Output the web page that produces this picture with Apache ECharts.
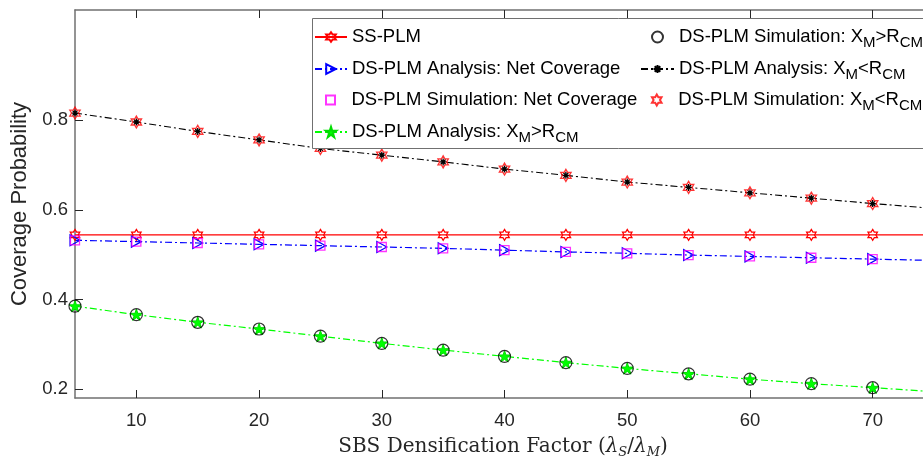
<!DOCTYPE html>
<html><head><meta charset="utf-8">
<script src="https://cdn.jsdelivr.net/npm/echarts@6/dist/echarts.min.js"></script>
<style>html,body{margin:0;padding:0;background:#fff}#c{width:923px;height:464px}</style>
</head><body><div id="c"></div>
<script>
// ---- data ----
const xValues = [5,10,15,20,25,30,35,40,45,50,55,60,65,70,75];
const xSim = [5,10,15,20,25,30,35,40,45,50,55,60,65,70];
const xTicks = [10,20,30,40,50,60,70];
const yTicks = [0.2,0.4,0.6,0.8];
const ssPlm = [0.544,0.544,0.544,0.544,0.544,0.544,0.544,0.544,0.544,0.544,0.544,0.544,0.544,0.544,0.544];
const netAnalysis = [0.532,0.529,0.526,0.523,0.520,0.517,0.514,0.510,0.506,0.503,0.499,0.496,0.493,0.490,0.487];
const netSim = [0.532,0.529,0.526,0.523,0.520,0.517,0.514,0.510,0.506,0.503,0.499,0.496,0.493,0.490];
const farAnalysis = [0.385,0.366,0.349,0.334,0.318,0.302,0.287,0.273,0.259,0.246,0.234,0.222,0.212,0.203,0.194];
const farSim = [0.385,0.366,0.349,0.334,0.318,0.302,0.287,0.273,0.259,0.246,0.234,0.222,0.212,0.203];
const nearAnalysis = [0.816,0.796,0.775,0.756,0.737,0.722,0.707,0.691,0.677,0.662,0.650,0.638,0.626,0.614,0.603];
const nearSim = [0.816,0.796,0.775,0.756,0.737,0.722,0.707,0.691,0.677,0.662,0.650,0.638,0.626,0.614];
const names = ['SS-PLM','DS-PLM Analysis: Net Coverage','DS-PLM Simulation: Net Coverage','DS-PLM Analysis: XM>RCM','DS-PLM Simulation: XM>RCM','DS-PLM Analysis: XM<RCM','DS-PLM Simulation: XM<RCM'];

// ---- helpers ----
const zip = (xs, ys) => ys.map((y, i) => [xs[i], y]);
const hexPath = 'path://M50 0L64.43 25L93.3 25L78.87 50L93.3 75L64.43 75L50 100L35.57 75L6.7 75L21.13 50L6.7 25L35.57 25Z';
const starPath = 'path://M50 0L61.23 34.55L97.55 34.55L68.17 55.9L79.39 90.45L50 69.1L20.61 90.45L31.83 55.9L2.45 34.55L38.77 34.55Z';
const triPath = 'path://M0 0L100 50L0 100Z';
const sqPath = 'path://M0 0L100 0L100 100L0 100Z';
const astPath = 'path://M50 0L50 100M0 50L100 50M15 15L85 85M85 15L15 85';
const dashDot = [7,3,2,3];
const axisCol = '#707070';
const txtCol = '#262626';
const sans = 'Liberation Sans, Arial, sans-serif';

const chart = echarts.init(document.getElementById('c'), null, {renderer:'canvas'});

function fmtName(n){ return n.replace('XM', 'X{sub|M}').replace('RCM', 'R{sub|CM}'); }
const legTextStyle = {
  fontFamily: sans, fontSize: 18.5, color: '#000', lineHeight: 26,
  rich: { sub: { fontFamily: sans, fontSize: 15, lineHeight: 15, padding: [11,0,0,0], color: '#000' } }
};
const legPos = [
  {left:314, cy:37, w:32, h:12}, {left:314, cy:69, w:32, h:12}, {left:325, cy:100, w:32, h:9}, {left:314, cy:132, w:32, h:13},
  {left:651, cy:37, w:33, h:11}, {left:640, cy:69, w:33, h:10}, {left:651, cy:100, w:33, h:11}
];
const legends = names.map((n, i) => ({
  data: [n], left: legPos[i].left, top: legPos[i].cy - 13, orient: 'vertical',
  itemWidth: legPos[i].w, itemHeight: legPos[i].h, padding: 0, z: 20,
  selectedMode: false, formatter: fmtName, textStyle: legTextStyle
}));

const option = {
  animation: false,
  backgroundColor: '#fff',
  grid: { left: 75, right: 0, top: 10, bottom: 60, containLabel: false },
  legend: legends,
  graphic: [{ type: 'rect', z: 10, shape: { x: 312.5, y: 18.5, width: 640, height: 130 },
    style: { fill: '#fff', stroke: axisCol, lineWidth: 1 } }],
  xAxis: [{
    type: 'value', min: 5, max: 74.1, position: 'bottom',
    axisLine: { show: true, lineStyle: { color: axisCol, width: 1.5 } },
    axisTick: { show: true, inside: true, length: 8, customValues: xTicks, lineStyle: { color: txtCol } },
    axisLabel: { customValues: xTicks, color: txtCol, fontSize: 18.5, fontFamily: sans, margin: 13 },
    splitLine: { show: false },
    name: 'SBS Densification Factor ({l|λ}{s|S}/{l|λ}{s|M})',
    nameLocation: 'middle', nameGap: 37,
    nameTextStyle: { fontFamily: 'DejaVu Serif, serif', fontSize: 20, color: txtCol, lineHeight: 24, padding: [0,0,0,8],
      rich: { l: { fontFamily: 'DejaVu Serif, serif', fontSize: 20, fontStyle: 'italic', color: txtCol, lineHeight: 24 },
              s: { fontFamily: 'DejaVu Serif, serif', fontSize: 13, fontStyle: 'italic', color: txtCol, lineHeight: 13, padding: [11,0,0,0] } } }
  }, {
    type: 'value', min: 5, max: 74.1, position: 'top',
    axisLine: { show: true, lineStyle: { color: axisCol, width: 1.5 } },
    axisTick: { show: true, inside: true, length: 8, customValues: xTicks, lineStyle: { color: txtCol } },
    axisLabel: { show: false }, splitLine: { show: false }
  }],
  yAxis: [{
    type: 'value', min: 0.18, max: 1.046,
    axisLine: { show: true, lineStyle: { color: axisCol, width: 1.5 } },
    axisTick: { show: true, inside: true, length: 8, customValues: yTicks, lineStyle: { color: txtCol } },
    axisLabel: { customValues: yTicks, color: txtCol, fontSize: 18.5, fontFamily: sans, margin: 7,
      formatter: v => v.toFixed(1) },
    splitLine: { show: false },
    name: 'Coverage Probability', nameLocation: 'middle', nameGap: 39,
    nameTextStyle: { fontFamily: sans, fontSize: 22, color: txtCol }
  }],
  series: [
    { name: names[0], type: 'line', data: zip(xValues, ssPlm), symbol: hexPath, symbolSize: 11, symbolKeepAspect: true,
      itemStyle: { color: 'transparent', borderColor: '#ff0000', borderWidth: 1.2 },
      lineStyle: { color: '#ff0000', width: 1.3, type: 'solid' }, z: 2 },
    { name: names[1], type: 'line', data: zip(xValues, netAnalysis), symbol: triPath, symbolSize: [10, 11], symbolKeepAspect: true,
      itemStyle: { color: 'transparent', borderColor: '#0000ff', borderWidth: 1.2 },
      lineStyle: { color: '#0000ff', width: 1.2, type: dashDot }, z: 2 },
    { name: names[2], type: 'scatter', data: zip(xSim, netSim), symbol: sqPath, symbolSize: 9, symbolKeepAspect: true,
      itemStyle: { color: 'transparent', borderColor: '#ff00ff', borderWidth: 1.3 }, z: 3 },
    { name: names[3], type: 'line', data: zip(xValues, farAnalysis), symbol: starPath, symbolSize: 12, symbolKeepAspect: true,
      itemStyle: { color: '#00ff00', borderColor: '#00dd00', borderWidth: 1 },
      lineStyle: { color: '#00ff00', width: 1.2, type: dashDot }, z: 3 },
    { name: names[4], type: 'scatter', data: zip(xSim, farSim), symbol: 'circle', symbolSize: 12,
      itemStyle: { color: 'transparent', borderColor: '#000', borderWidth: 1.2 }, z: 4 },
    { name: names[5], type: 'line', data: zip(xValues, nearAnalysis), symbol: astPath, symbolSize: 7, symbolKeepAspect: true,
      itemStyle: { color: '#000', borderColor: '#000', borderWidth: 1.3 },
      lineStyle: { color: '#000', width: 1.1, type: dashDot }, z: 4 },
    { name: names[6], type: 'scatter', data: zip(xSim, nearSim), symbol: hexPath, symbolSize: 12, symbolKeepAspect: true,
      itemStyle: { color: 'transparent', borderColor: '#ff0000', borderWidth: 1.3 }, z: 5 }
  ]
};
chart.setOption(option);
</script></body></html>
